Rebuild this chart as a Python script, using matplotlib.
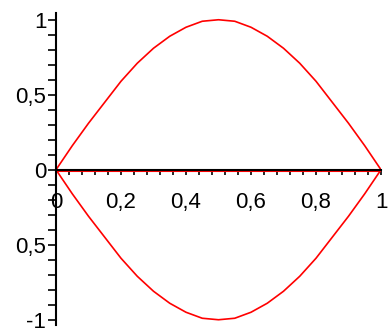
import numpy as np
import matplotlib
matplotlib.use("Agg")
import matplotlib.pyplot as plt
import matplotlib.transforms as mtransforms
from matplotlib.ticker import MultipleLocator, FixedLocator

# values
x = [0, 0.05, 0.1, 0.15, 0.2, 0.25, 0.3, 0.35, 0.4, 0.45, 0.5,
     0.55, 0.6, 0.65, 0.7, 0.75, 0.8, 0.85, 0.9, 0.95, 1.0]
y_upper = [0, 0.16, 0.31, 0.45, 0.59, 0.71, 0.81, 0.89, 0.95, 0.99, 1.0,
           0.99, 0.95, 0.89, 0.81, 0.71, 0.59, 0.45, 0.31, 0.16, 0]
y_lower = [0, -0.16, -0.31, -0.45, -0.59, -0.71, -0.81, -0.89, -0.95, -0.99, -1.0,
           -0.99, -0.95, -0.89, -0.81, -0.71, -0.59, -0.45, -0.31, -0.16, 0]
y_zero = [0] * len(x)

xtick_vals = [0, 0.2, 0.4, 0.6, 0.8, 1]
xtick_text = ["0", "0,2", "0,4", "0,6", "0,8", "1"]
ytick_vals = [-1, -0.5, 0, 0.5, 1]
ytick_text = ["-1", "0,5", "0", "0,5", "1"]

plt.rcParams['font.family'] = ['Liberation Sans', 'DejaVu Sans']

fig = plt.figure(figsize=(3.9, 3.33), dpi=100)
ax = fig.add_axes([56/390, 8/333, 325/390, 312/333])

ax.plot(x, y_upper, color='#ff0000', linewidth=1.2)
ax.plot(x, y_lower, color='#ff0000', linewidth=1.2)
# the red zero line sits a pixel under the black axis
shift = mtransforms.offset_copy(ax.transData, fig=fig, x=0, y=-1.5, units='dots')
ax.plot(x, y_zero, color='#ff0000', linewidth=1.5, transform=shift)

ax.set_xlim(0, 1)
ax.set_ylim(-1.035, 1.045)

for s in ['top', 'right']:
    ax.spines[s].set_visible(False)
ax.spines['left'].set_position(('data', 0))
ax.spines['bottom'].set_position(('data', 0))
ax.spines['left'].set_linewidth(1.5)
ax.spines['bottom'].set_linewidth(1.5)
ax.spines['bottom'].set_zorder(5)

ax.xaxis.set_major_locator(FixedLocator(xtick_vals))
ax.set_xticklabels(xtick_text)
ax.xaxis.set_minor_locator(MultipleLocator(0.04))
ax.yaxis.set_major_locator(FixedLocator(ytick_vals))
ax.set_yticklabels(ytick_text)
ax.yaxis.set_minor_locator(FixedLocator(np.arange(-10, 11) / 10))

ax.tick_params(axis='x', which='both', direction='out', length=3.8, width=1.2, labelsize=16, pad=12.5)
ax.tick_params(axis='y', which='both', direction='out', length=5.5, width=1.2, labelsize=16, pad=1.5)

ax.patch.set_visible(False)
plt.savefig("out.png", dpi=100)
